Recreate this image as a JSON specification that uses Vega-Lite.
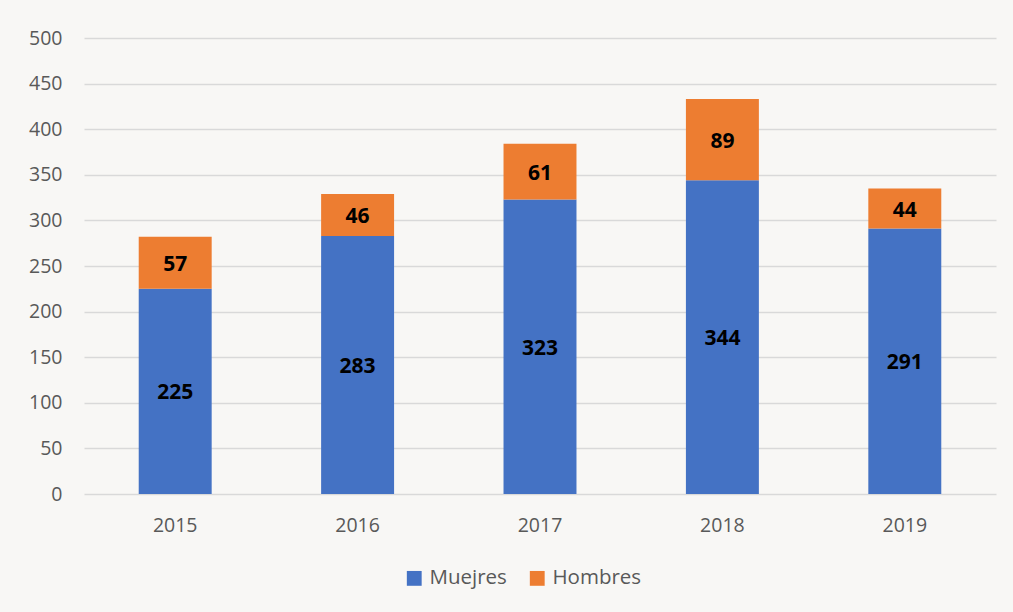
{
  "$schema": "https://vega.github.io/schema/vega-lite/v6.json",
  "width": 912,
  "height": 456,
  "autosize": {"type": "none"},
  "padding": {"left": 84, "top": 38, "right": 17, "bottom": 118},
  "background": "#f8f7f5",
  "config": {
    "view": {"stroke": null},
    "font": "Open Sans"
  },
  "data": {
    "values": [
      {"anio": "2015", "sexo": "Muejres", "orden": 1, "valor": 225},
      {"anio": "2015", "sexo": "Hombres", "orden": 2, "valor": 57},
      {"anio": "2016", "sexo": "Muejres", "orden": 1, "valor": 283},
      {"anio": "2016", "sexo": "Hombres", "orden": 2, "valor": 46},
      {"anio": "2017", "sexo": "Muejres", "orden": 1, "valor": 323},
      {"anio": "2017", "sexo": "Hombres", "orden": 2, "valor": 61},
      {"anio": "2018", "sexo": "Muejres", "orden": 1, "valor": 344},
      {"anio": "2018", "sexo": "Hombres", "orden": 2, "valor": 89},
      {"anio": "2019", "sexo": "Muejres", "orden": 1, "valor": 291},
      {"anio": "2019", "sexo": "Hombres", "orden": 2, "valor": 44}
    ]
  },
  "transform": [
    {"stack": "valor", "groupby": ["anio"], "sort": [{"field": "orden", "order": "ascending"}], "as": ["v0", "v1"]},
    {"calculate": "(datum.v0 + datum.v1) / 2", "as": "vmid"}
  ],
  "encoding": {
    "x": {
      "field": "anio",
      "type": "nominal",
      "title": null,
      "scale": {"paddingInner": 0.6, "paddingOuter": 0.3},
      "axis": {
        "labelAngle": 0,
        "domain": false,
        "ticks": false,
        "labelFontSize": 19.5,
        "labelColor": "#595959",
        "labelPadding": 22,
        "grid": false
      }
    }
  },
  "layer": [
    {
      "mark": {"type": "bar"},
      "encoding": {
        "y": {
          "field": "v0",
          "type": "quantitative",
          "title": null,
          "scale": {"domain": [0, 500]},
          "axis": {
            "values": [0, 50, 100, 150, 200, 250, 300, 350, 400, 450, 500],
            "domain": false,
            "ticks": false,
            "grid": true,
            "gridColor": "#d9d9d9",
            "gridWidth": 1.5,
            "labelFontSize": 19.5,
            "labelColor": "#595959",
            "labelPadding": 22
          }
        },
        "y2": {"field": "v1"},
        "color": {
          "field": "sexo",
          "type": "nominal",
          "title": null,
          "scale": {"domain": ["Muejres", "Hombres"], "range": ["#4472C4", "#ED7D31"]},
          "legend": {
            "orient": "none",
            "legendX": 320,
            "legendY": 530,
            "direction": "horizontal",
            "symbolType": "square",
            "symbolSize": 220,
            "symbolStrokeWidth": 0,
            "labelFontSize": 20.5,
            "labelColor": "#595959",
            "columnPadding": 20,
            "labelOffset": 5
          }
        }
      }
    },
    {
      "mark": {"type": "text", "fontWeight": "bold", "fontSize": 21, "color": "#000000", "baseline": "middle", "dy": 2},
      "encoding": {
        "y": {"field": "vmid", "type": "quantitative"},
        "text": {"field": "valor", "type": "quantitative"}
      }
    }
  ]
}
